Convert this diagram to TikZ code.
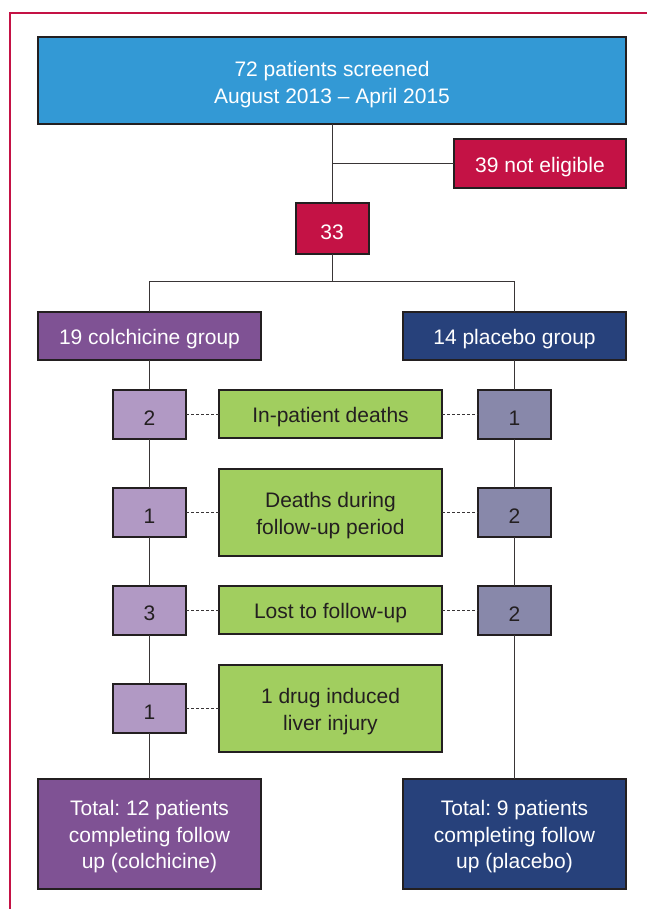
\documentclass[tikz,border=0pt]{standalone}
\usepackage{fontspec}
\setmainfont{Liberation Sans}
\definecolor{fcblue}{RGB}{51,153,213}
\definecolor{fccrimson}{RGB}{196,18,69}
\definecolor{fcpurple}{RGB}{127,82,148}
\definecolor{fcnavy}{RGB}{39,65,123}
\definecolor{fclilac}{RGB}{177,153,196}
\definecolor{fcgrey}{RGB}{136,136,170}
\definecolor{fcgreen}{RGB}{161,206,95}
\definecolor{fcdark}{RGB}{35,31,32}
\usetikzlibrary{positioning}
\newcommand{\topstrut}{\rule{0pt}{22pt}}
\frenchspacing

\begin{document}
\begin{tikzpicture}[
      box/.style={draw=fcdark, line width=2pt, outer sep=0pt, inner sep=2pt, align=center,
                  font=\fontsize{21}{26.5}\selectfont,
                  execute at begin node={\topstrut}},
      darkbox/.style={box, text=white},
      lightbox/.style={box, text=fcdark},
      num/.style={lightbox, minimum width=73pt, minimum height=49pt},
      link/.style={draw=fcdark!90, line width=1pt},
      dots/.style={link, dash pattern=on 3pt off 2pt}
  ]
    \useasboundingbox (0,0) rectangle (647pt,-909pt);
    % frame
    \draw[fccrimson, line width=2.5pt] (10pt,-909pt) |- (647pt,-13pt);

    \node[darkbox, fill=fcblue, minimum width=588pt, minimum height=87pt,
          font=\fontsize{21}{27}\selectfont] (screen) at (332pt,-81pt)
          {\topstrut 72 patients screened\\August 2013 -- April 2015};
    \node[darkbox, fill=fccrimson, minimum width=172pt, minimum height=49pt,
          below left=15pt and 0pt of screen.south east] (noteli) {39 not eligible};
    \node[darkbox, fill=fccrimson, minimum width=73pt, minimum height=50pt,
          below=79pt of screen] (n33) {33};
    \coordinate[below=28pt of n33] (split);
    \coordinate (jn) at (screen.south |- noteli.west);

    \node[darkbox, fill=fcpurple, minimum width=223pt, minimum height=48pt,
          below right=187pt and 0pt of screen.south west] (colch) {19 colchicine group};
    \node[darkbox, fill=fcnavy, minimum width=223pt, minimum height=48pt,
          below left=187pt and 0pt of screen.south east] (plac) {14 placebo group};

    % colchicine column
    \node[num, fill=fclilac, below=30pt of colch] (l1) {2};
    \node[num, fill=fclilac, below=49pt of l1] (l2) {1};
    \node[num, fill=fclilac, below=49pt of l2] (l3) {3};
    \node[num, fill=fclilac, below=49pt of l3] (l4) {1};
    \node[darkbox, fill=fcpurple, minimum width=223pt, minimum height=110pt,
          below=46pt of l4] (botl) {\topstrut Total: 12 patients\\completing follow\\up (colchicine)};

    % reasons
    \node[lightbox, fill=fcgreen, minimum width=223pt, minimum height=48pt,
          right=33pt of l1] (g1) {In-patient deaths};
    \node[lightbox, fill=fcgreen, minimum width=223pt, minimum height=87pt,
          right=33pt of l2] (g2) {\topstrut Deaths during\\follow-up period};
    \node[lightbox, fill=fcgreen, minimum width=223pt, minimum height=48pt,
          right=33pt of l3] (g3) {Lost to follow-up};
    \node[lightbox, fill=fcgreen, minimum width=223pt, minimum height=87pt,
          right=33pt of l4] (g4) {\topstrut 1 drug induced\\liver injury};

    % placebo column
    \node[num, fill=fcgrey, below=30pt of plac] (r1) {1};
    \node[num, fill=fcgrey, below=49pt of r1] (r2) {2};
    \node[num, fill=fcgrey, below=49pt of r2] (r3) {2};
    \node[darkbox, fill=fcnavy, minimum width=223pt, minimum height=110pt]
          (botr) at (plac |- botl) {\topstrut Total: 9 patients\\completing follow\\up (placebo)};

    \draw[link] (screen) -- (n33);
    \draw[link] (jn) -- (noteli);
    \draw[link] (n33) -- (split);
    \draw[link] (colch.north) |- (split) -| (plac.north);
    \draw[link] (colch) -- (l1) -- (l2) -- (l3) -- (l4) -- (botl);
    \draw[link] (plac) -- (r1) -- (r2) -- (r3) -- (botr);
    \draw[dots] (l1) -- (g1); \draw[dots] (g1) -- (r1);
    \draw[dots] (l2) -- (g2); \draw[dots] (g2) -- (r2);
    \draw[dots] (l3) -- (g3); \draw[dots] (g3) -- (r3);
    \draw[dots] (l4) -- (g4);
  \end{tikzpicture}
\end{document}
